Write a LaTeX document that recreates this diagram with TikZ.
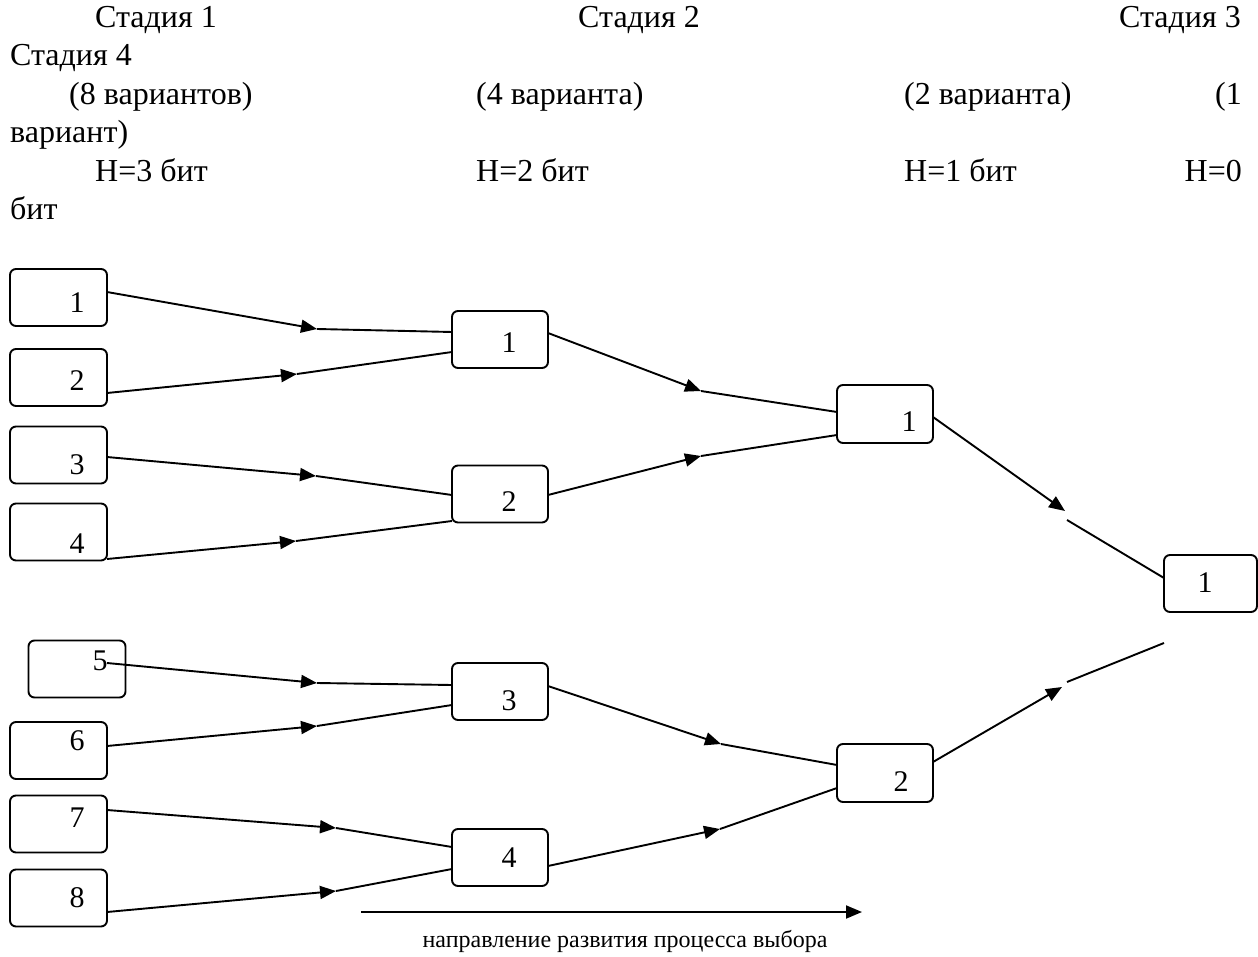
\documentclass[tikz,border=0pt]{standalone}
\usepackage{fontspec}
\setmainfont{Liberation Serif}
\usetikzlibrary{arrows.meta}
\begin{document}
\begin{tikzpicture}[x=1pt,y=-1pt,
  box/.style={draw, line width=1.9pt, rounded corners=6pt, minimum width=97pt, minimum height=57pt, inner sep=0pt, outer sep=0pt},
  num/.style={font=\fontsize{30}{32}\selectfont, inner sep=0pt},
  head/.style={font=\fontsize{32}{34}\selectfont, inner sep=0pt, anchor=base west},
  headr/.style={font=\fontsize{32}{34}\selectfont, inner sep=0pt, anchor=base east},
  foot/.style={font=\fontsize{24}{28}\selectfont, inner sep=0pt},
  con/.style={line width=1.9pt},
  arr/.style={line width=1.9pt, -{Triangle[length=16pt,width=13pt]}},
]
\useasboundingbox (0,0) rectangle (1258,957);
% header text (baselines)
\node[head] (h1) at (95,28) {Стадия 1};
\node[head] (h2) at (578,28) {Стадия 2};
\node[headr] (h3) at (1241,28) {Стадия 3};
\node[head] (h4) at (10,66) {Стадия 4};
\node[head] (h5) at (69,105) {(8 вариантов)};
\node[head] (h6) at (476,105) {(4 варианта)};
\node[head] (h7) at (904,105) {(2 варианта)};
\node[headr] (h8) at (1242,105) {(1};
\node[head] (h9) at (10,143) {вариант)};
\node[head] (h10) at (95,182) {H=3 бит};
\node[head] (h11) at (476,182) {H=2 бит};
\node[head] (h12) at (904,182) {H=1 бит};
\node[headr] (h13) at (1242,182) {H=0};
\node[head] (h14) at (10,220) {бит};
% stage 1 boxes
\node[box] (s1) at (58.5,297.5) {};
\node[box] (s2) at (58.5,377.5) {};
\node[box] (s3) at (58.5,455) {};
\node[box] (s4) at (58.5,532) {};
\node[box] (s5) at (77,669) {};
\node[box] (s6) at (58.5,750.5) {};
\node[box] (s7) at (58.5,824) {};
\node[box] (s8) at (58.5,898) {};
\node[num] (ns1) at (77,303) {1};
\node[num] (ns2) at (77,381) {2};
\node[num] (ns3) at (77,465) {3};
\node[num] (ns4) at (77,544) {4};
\node[num] (ns5) at (100,661) {5};
\node[num] (ns6) at (77,741) {6};
\node[num] (ns7) at (77,818) {7};
\node[num] (ns8) at (77,898) {8};
% stage 2 boxes
\node[box, minimum width=96pt] (t1) at (500,339.5) {};
\node[box, minimum width=96pt] (t2) at (500,494) {};
\node[box, minimum width=96pt] (t3) at (500,691.5) {};
\node[box, minimum width=96pt] (t4) at (500,857.5) {};
\node[num] (nt1) at (509,343) {1};
\node[num] (nt2) at (509,502) {2};
\node[num] (nt3) at (509,701) {3};
\node[num] (nt4) at (509,858) {4};
% stage 3 boxes
\node[box, minimum width=96pt, minimum height=58pt] (u1) at (885,414) {};
\node[box, minimum width=96pt, minimum height=58pt] (u2) at (885,773) {};
\node[num] (nu1) at (909,422) {1};
\node[num] (nu2) at (901,782) {2};
% stage 4 box
\node[box, minimum width=93pt] (v) at (1210.5,583.5) {};
\node[num] (nv) at (1205,583) {1};
% arrow tip coordinates
\coordinate (m1) at (317,329);
\coordinate (m2) at (297,374);
\coordinate (m3) at (316,476);
\coordinate (m4) at (296,541);
\coordinate (m5) at (317,683);
\coordinate (m6) at (317,726);
\coordinate (m7) at (336,828);
\coordinate (m8) at (336,891);
\coordinate (m9) at (701,391);
\coordinate (m10) at (701,456);
\coordinate (m11) at (721,744);
\coordinate (m12) at (720,829);
\coordinate (m13) at (1065,511);
\coordinate (m13b) at (1067,520);
\coordinate (m14) at (1062,687);
\coordinate (m14b) at (1067,682);
% stage 1 -> 2
\draw[arr] ([yshift=5.5pt]s1.east) -- (m1);
\draw[con] (m1) -- ([yshift=7.5pt]t1.west);
\draw[arr] ([yshift=-15.5pt]s2.east) -- (m2);
\draw[con] (m2) -- ([yshift=-12.5pt]t1.west);
\draw[arr] ([yshift=-2pt]s3.east) -- (m3);
\draw[con] (m3) -- ([yshift=-1pt]t2.west);
\draw[arr] ([yshift=-27pt]s4.east) -- (m4);
\draw[con] (m4) -- ([yshift=-27pt]t2.west);
\draw[arr] ([xshift=30pt,yshift=6pt]s5.center) -- (m5);
\draw[con] (m5) -- ([yshift=6.5pt]t3.west);
\draw[arr] ([yshift=4.5pt]s6.east) -- (m6);
\draw[con] (m6) -- ([yshift=-13.5pt]t3.west);
\draw[arr] ([yshift=14pt]s7.east) -- (m7);
\draw[con] (m7) -- ([yshift=10.5pt]t4.west);
\draw[arr] ([yshift=-14pt]s8.east) -- (m8);
\draw[con] (m8) -- ([yshift=-11.5pt]t4.west);
% stage 2 -> 3
\draw[arr] ([yshift=6.5pt]t1.east) -- (m9);
\draw[con] (m9) -- ([yshift=2pt]u1.west);
\draw[arr] ([yshift=-1pt]t2.east) -- (m10);
\draw[con] (m10) -- ([yshift=-21pt]u1.west);
\draw[arr] ([yshift=5.5pt]t3.east) -- (m11);
\draw[con] (m11) -- ([yshift=8pt]u2.west);
\draw[arr] ([yshift=-8.5pt]t4.east) -- (m12);
\draw[con] (m12) -- ([yshift=-15pt]u2.west);
% stage 3 -> 4
\draw[arr] ([yshift=-3pt]u1.east) -- (m13);
\draw[con] (m13b) -- ([yshift=5.5pt]v.west);
\draw[arr] ([yshift=11pt]u2.east) -- (m14);
\draw[con] (m14b) -- ([yshift=-59.5pt]v.west);
% direction arrow
\coordinate (da) at (361,912);
\coordinate (db) at (862,912);
\draw[arr] (da) -- (db);
\node[foot] (dl) at (625,941) {направление развития процесса выбора};
\end{tikzpicture}
\end{document}
